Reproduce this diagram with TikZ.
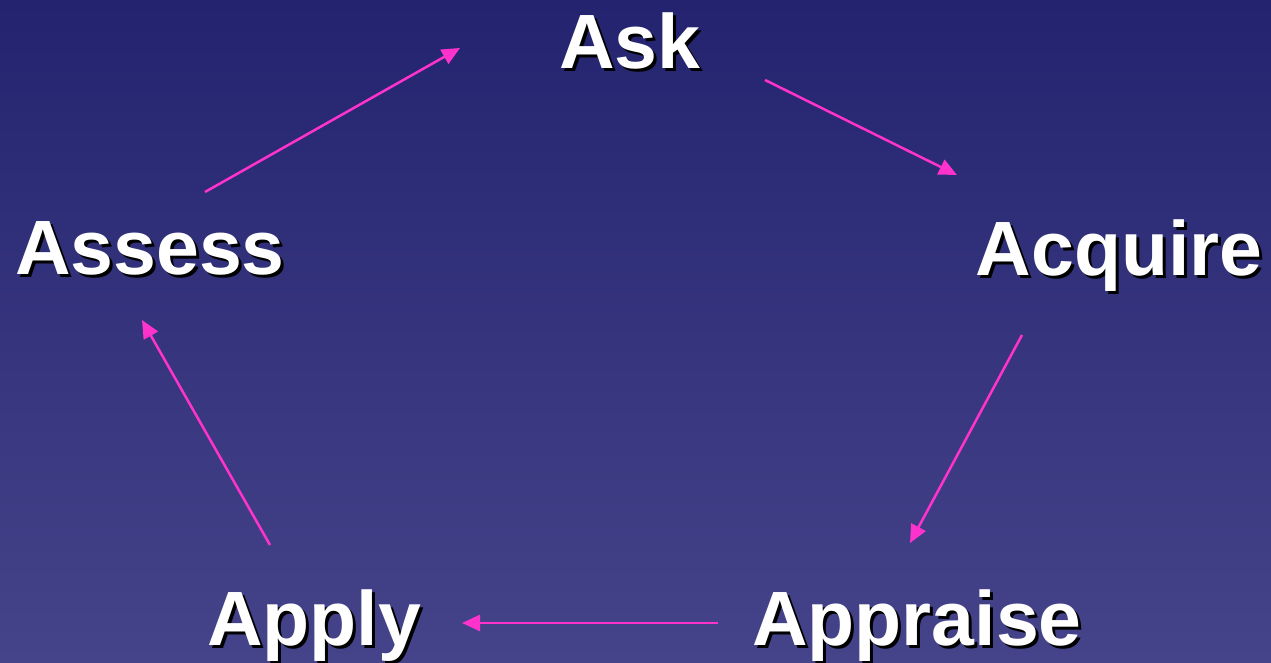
\documentclass[tikz,border=0pt]{standalone}
\usepackage{fontspec}
\setmainfont{Liberation Sans}
\usetikzlibrary{arrows.meta}
\definecolor{bgtop}{RGB}{36,35,111}
\definecolor{bgbot}{RGB}{69,68,138}
\definecolor{arr}{RGB}{255,51,204}
\newcommand{\shadowtext}[1]{\rlap{\hspace{3pt}\raisebox{-3pt}{\textcolor{black}{#1}}}#1}
\tikzset{
  lbl/.style={anchor=base, inner sep=0pt, text=white, font=\fontsize{77}{80}\selectfont\bfseries},
  link/.style={draw=arr, line width=2.5pt, -{Triangle[length=18pt,width=16pt]}}
}
\begin{document}
\begin{tikzpicture}[x=1pt,y=-1pt]
\shade[top color=bgtop, bottom color=bgbot] (0,0) rectangle (1271,663);
\useasboundingbox (0,0) rectangle (1271,663);
\node[lbl] (ask) at (630,69) {\shadowtext{Ask}};
\node[lbl] (acq) at (1119,275) {\shadowtext{Acquire}};
\node[lbl] (app) at (917,645) {\shadowtext{Appraise}};
\node[lbl] (apl) at (314,645) {\shadowtext{Apply}};
\node[lbl] (ass) at (150,274) {\shadowtext{Assess}};
% connector ends
\coordinate (c1a) at (205,192); \coordinate (c1b) at (460,48);
\coordinate (c2a) at (765,80);  \coordinate (c2b) at (957,175);
\coordinate (c3a) at (1022,335); \coordinate (c3b) at (910,543);
\coordinate (c4a) at (718,623); \coordinate (c4b) at (462,623);
\coordinate (c5a) at (270,545); \coordinate (c5b) at (142,320);
\draw[link] (c1a) -- (c1b);
\draw[link] (c2a) -- (c2b);
\draw[link] (c3a) -- (c3b);
\draw[link] (c4a) -- (c4b);
\draw[link] (c5a) -- (c5b);
\end{tikzpicture}
\end{document}
